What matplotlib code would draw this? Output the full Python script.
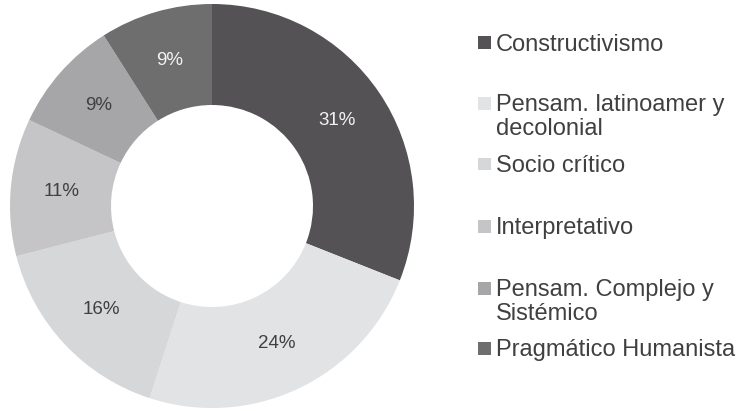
import matplotlib.pyplot as plt
from matplotlib.patches import Rectangle

plt.rcParams['font.family'] = ['Liberation Sans', 'DejaVu Sans']

# enfoques y porcentajes
enfoques = ['Constructivismo', 'Pensam. latinoamer y\ndecolonial', 'Socio crítico',
            'Interpretativo', 'Pensam. Complejo y\nSistémico', 'Pragmático Humanista']
porcentajes = [31, 24, 16, 11, 9, 9]
colores = ['#545254', '#e2e3e5', '#d6d7d9', '#c5c5c7', '#a6a6a8', '#6e6e6e']
color_texto = ['#f2f2f2', '#404040', '#404040', '#404040', '#404040', '#f2f2f2']

fig = plt.figure(figsize=(7.41, 4.11), dpi=100)
W, H = 741, 411

ax = fig.add_axes([10 / W, 3 / H, 404 / W, 404 / H])
wedges, textos, autotextos = ax.pie(porcentajes, colors=colores, startangle=90,
                                    counterclock=False, radius=1,
                                    wedgeprops=dict(width=0.5, linewidth=0),
                                    autopct='%1.0f%%', pctdistance=0.75,
                                    textprops=dict(fontsize=13.5))
for t, c in zip(autotextos, color_texto):
    t.set_color(c)
ax.set_xlim(-1, 1)
ax.set_ylim(-1, 1)
ax.axis('off')

# leyenda a la derecha
y_cuadros = [43, 103, 164, 226, 288, 348]
for nombre, col, yc in zip(enfoques, colores, y_cuadros):
    fig.patches.append(Rectangle((478 / W, 1 - (yc + 6.5) / H), 13 / W, 13 / H,
                                 transform=fig.transFigure, facecolor=col,
                                 edgecolor='none'))
    fig.text(496 / W, 1 - (yc - 9) / H, nombre, fontsize=17, color='#404040',
             va='top', ha='left', linespacing=1.12)

fig.savefig('out.png', dpi=100)
